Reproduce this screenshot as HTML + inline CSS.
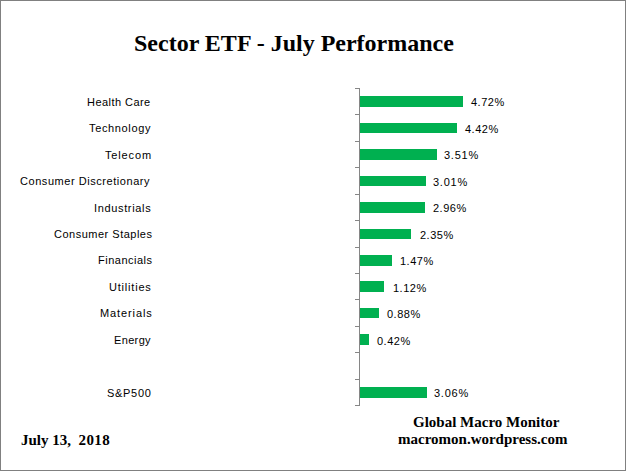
<!DOCTYPE html>
<html><head><meta charset="utf-8"><style>
html,body{margin:0;padding:0;background:#fff}
#c{position:relative;width:626px;height:471px;overflow:hidden;background:#fff}
#bd{position:absolute;left:0;top:0;width:624px;height:469px;border:1px solid #808080}
.t{position:absolute;font-family:"Liberation Serif",serif;font-weight:bold;white-space:pre;color:#000}
.lb{position:absolute;font-family:"Liberation Sans",sans-serif;font-size:11px;line-height:11px;white-space:pre;color:#000;}
.vl{position:absolute;font-family:"Liberation Sans",sans-serif;font-size:11px;line-height:11px;letter-spacing:0.5px;white-space:pre;color:#000}
.bar{position:absolute;left:360px;background:#00b050}
.tk{position:absolute;left:355px;width:4px;height:1px;background:#868686}
#ax{position:absolute;left:359px;top:88px;width:1px;height:318px;background:#868686}
</style></head><body><div id="c"><div id="bd"></div>
<div class="t" style="left:134px;top:28px;font-size:24px;line-height:30px">Sector ETF - July Performance</div>
<div id="ax"></div>
<div class="tk" style="top:88px"></div>
<div class="bar" style="top:96px;height:11px;width:103px"></div>
<div class="lb" style="top:96.69px;left:87px;letter-spacing:0.45px">Health Care</div>
<div class="vl" style="top:96.69px;left:471px;letter-spacing:0.5px">4.72%</div>
<div class="tk" style="top:114px"></div>
<div class="bar" style="top:123px;height:10px;width:97px"></div>
<div class="lb" style="top:122.69px;left:89px;letter-spacing:0.65px">Technology</div>
<div class="vl" style="top:123.69px;left:465px;letter-spacing:0.5px">4.42%</div>
<div class="tk" style="top:141px"></div>
<div class="bar" style="top:149px;height:11px;width:77px"></div>
<div class="lb" style="top:149.69px;left:105px;letter-spacing:0.85px">Telecom</div>
<div class="vl" style="top:149.69px;left:444px;letter-spacing:0.75px">3.51%</div>
<div class="tk" style="top:167px"></div>
<div class="bar" style="top:176px;height:10px;width:66px"></div>
<div class="lb" style="top:175.69px;left:20px;letter-spacing:0.55px">Consumer Discretionary</div>
<div class="vl" style="top:176.69px;left:433px;letter-spacing:0.75px">3.01%</div>
<div class="tk" style="top:194px"></div>
<div class="bar" style="top:202px;height:11px;width:65px"></div>
<div class="lb" style="top:202.69px;left:94px;letter-spacing:0.65px">Industrials</div>
<div class="vl" style="top:202.69px;left:433px;letter-spacing:0.5px">2.96%</div>
<div class="tk" style="top:220px"></div>
<div class="bar" style="top:229px;height:10px;width:51px"></div>
<div class="lb" style="top:228.69px;left:54px;letter-spacing:0.5px">Consumer Staples</div>
<div class="vl" style="top:229.69px;left:420px;letter-spacing:0.5px">2.35%</div>
<div class="tk" style="top:247px"></div>
<div class="bar" style="top:255px;height:11px;width:32px"></div>
<div class="lb" style="top:254.69px;left:98px;letter-spacing:0.5px">Financials</div>
<div class="vl" style="top:255.69px;left:400px;letter-spacing:0.5px">1.47%</div>
<div class="tk" style="top:273px"></div>
<div class="bar" style="top:281px;height:11px;width:24px"></div>
<div class="lb" style="top:281.69px;left:109px;letter-spacing:0.8px">Utilities</div>
<div class="vl" style="top:282.69px;left:393px;letter-spacing:0.5px">1.12%</div>
<div class="tk" style="top:299px"></div>
<div class="bar" style="top:308px;height:10px;width:19px"></div>
<div class="lb" style="top:307.69px;left:100px;letter-spacing:0.9px">Materials</div>
<div class="vl" style="top:308.69px;left:387px;letter-spacing:0.5px">0.88%</div>
<div class="tk" style="top:326px"></div>
<div class="bar" style="top:334px;height:11px;width:9px"></div>
<div class="lb" style="top:334.69px;left:114px;letter-spacing:0.35px">Energy</div>
<div class="vl" style="top:335.69px;left:377px;letter-spacing:0.5px">0.42%</div>
<div class="tk" style="top:352px"></div>
<div class="tk" style="top:379px"></div>
<div class="bar" style="top:387px;height:11px;width:67px"></div>
<div class="lb" style="top:387.69px;left:107px;letter-spacing:0.7px">S&amp;P500</div>
<div class="vl" style="top:387.69px;left:434px;letter-spacing:0.75px">3.06%</div>
<div class="tk" style="top:405px"></div>
<div class="t" style="left:413px;top:413.5px;font-size:15px;line-height:17px">Global Macro Monitor</div>
<div class="t" style="left:398px;top:430.5px;font-size:15px;line-height:17px">macromon.wordpress.com</div>
<div class="t" style="left:21px;top:432px;font-size:15px;line-height:17px">July 13,  <span style="letter-spacing:0.4px">2018</span></div>
</div></body></html>
